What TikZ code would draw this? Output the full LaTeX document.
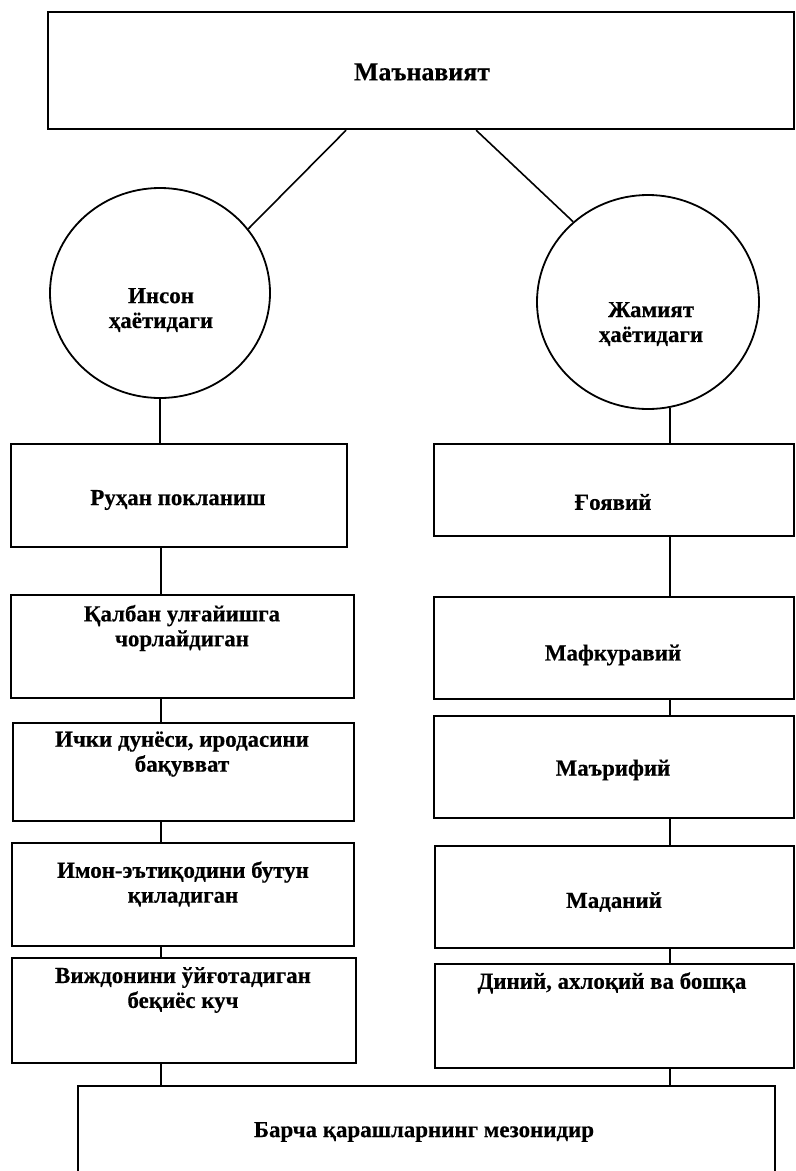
\documentclass[tikz,border=0pt]{standalone}
\usepackage{fontspec}
\setmainfont{Liberation Serif}[BoldFeatures={FakeBold=0.4}]
\usetikzlibrary{shapes.geometric}
\begin{document}
\begin{tikzpicture}[x=1bp,y=-1bp,
  box/.style={draw, line width=2.2bp, inner sep=0pt, anchor=north west},
  oval/.style={draw, ellipse, line width=1.8bp, inner sep=0pt},
  txt/.style={font=\bfseries\fontsize{23}{25}\selectfont, align=center, inner sep=0pt},
  conn/.style={line width=1.6bp}]
\useasboundingbox (0,0) rectangle (796,1171);
\clip (0,0) rectangle (796,1171);
% boxes
\node[box, minimum width=746bp, minimum height=117bp] (top) at (47,11) {};
\node[oval, minimum width=220bp, minimum height=210bp] (lc) at (160,293) {};
\node[oval, minimum width=222bp, minimum height=214bp] (rc) at (648,302) {};
\node[box, minimum width=336bp, minimum height=103bp] (L1) at (10,443) {};
\node[box, minimum width=343bp, minimum height=103bp] (L2) at (10,594) {};
\node[box, minimum width=341bp, minimum height=98bp]  (L3) at (12,722) {};
\node[box, minimum width=342bp, minimum height=103bp] (L4) at (11,842) {};
\node[box, minimum width=344bp, minimum height=105bp] (L5) at (11,957) {};
\node[box, minimum width=360bp, minimum height=92bp]  (R1) at (433,443) {};
\node[box, minimum width=360bp, minimum height=102bp] (R2) at (433,596) {};
\node[box, minimum width=360bp, minimum height=102bp] (R3) at (433,715) {};
\node[box, minimum width=359bp, minimum height=102bp] (R4) at (434,845) {};
\node[box, minimum width=359bp, minimum height=104bp] (R5) at (434,963) {};
\node[box, minimum width=697bp, minimum height=110bp] (B)  at (77,1085) {};
% texts
\node[txt, font=\bfseries\fontsize{26}{28}\selectfont] (tTop) at (422,72) {Маънавият};
\node[txt] (tLc) at (161,310) {Инсон\\ҳаётидаги};
\node[txt] (tRc) at (651,324) {Жамият\\ҳаётидаги};
\node[txt] (tL1) at (178,500) {Руҳан покланиш};
\node[txt] (tL2) at (182,628) {Қалбан улғайишга\\чорлайдиган};
\node[txt] (tL3) at (182,754) {Ички дунёси, иродасини\\бақувват};
\node[txt] (tL4) at (183,884) {Имон-эътиқодини бутун\\қиладиган};
\node[txt] (tL5) at (183,990) {Виждонини ўйғотадиган\\беқиёс куч};
\node[txt] (tR1) at (613,502) {Ғоявий};
\node[txt] (tR2) at (613,655) {Мафкуравий};
\node[txt] (tR3) at (613,770) {Маърифий};
\node[txt] (tR4) at (614,902) {Маданий};
\node[txt] (tR5) at (612,983) {Диний, ахлоқий ва бошқа};
\node[txt] (tB) at (424,1132) {Барча қарашларнинг мезонидир};
% columns
\coordinate (colL) at (161,0);
\coordinate (colR) at (670,0);
% connectors
\draw[conn] ([xshift=-75bp]top.south) -- (lc.36);
\draw[conn] ([xshift=55bp]top.south) -- (rc.133);
\draw[conn] (lc.south) -- (lc.south |- L1.north);
\draw[conn] (L1.south -| colL) -- (L2.north -| colL);
\draw[conn] (L2.south -| colL) -- (L3.north -| colL);
\draw[conn] (L3.south -| colL) -- (L4.north -| colL);
\draw[conn] (L4.south -| colL) -- (L5.north -| colL);
\draw[conn] (L5.south -| colL) -- (B.north -| colL);
\draw[conn] (colR |- rc.-78) -- (R1.north -| colR);
\draw[conn] (R1.south -| colR) -- (R2.north -| colR);
\draw[conn] (R2.south -| colR) -- (R3.north -| colR);
\draw[conn] (R3.south -| colR) -- (R4.north -| colR);
\draw[conn] (R4.south -| colR) -- (R5.north -| colR);
\draw[conn] (R5.south -| colR) -- (B.north -| colR);
\end{tikzpicture}
\end{document}
